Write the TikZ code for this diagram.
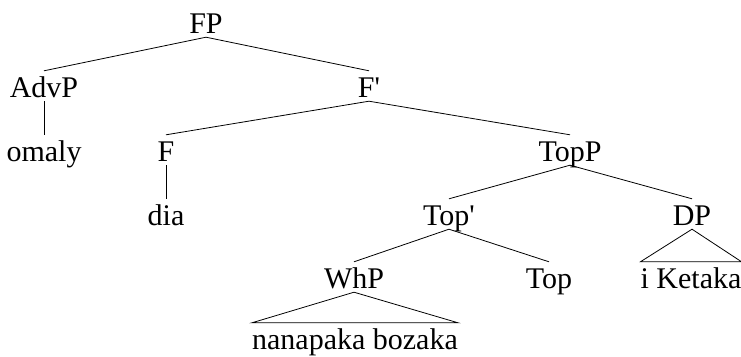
\documentclass[tikz,border=0pt]{standalone}
\usepackage{fontspec}
\setmainfont{Liberation Serif}

\begin{document}
\begin{tikzpicture}[x=1pt,y=-1pt,
    cat/.style={anchor=base,inner xsep=0pt,inner ysep=4pt,text height=22pt,text depth=0pt,font=\fontsize{30}{36}\selectfont},
    branch/.style={draw=black,line width=0.8pt}]
    \useasboundingbox (0,0) rectangle (741,356);
    \node[cat] (fp) at (206,33) {FP};
    \node[cat] (advp) at (44,97) {AdvP};
    \node[cat] (fbar) at (369,97) {F\textquotesingle};
     \node[cat] (omaly) at (44,161) {omaly};
     \node[cat] (f) at (166,161) {F};
     \node[cat] (topp) at (570,161) {TopP};
      \node[cat] (dia) at (166,225) {dia};
      \node[cat] (topbar) at (449,225) {Top\textquotesingle};
      \node[cat] (dp) at (692,225) {DP};
       \node[cat] (whp) at (354,288) {WhP};
       \node[cat] (top) at (549,288) {Top};
       \node[cat] (ketaka) at (691,288) {i Ketaka};
    \node[cat] (nanapaka) at (355,349) {nanapaka bozaka};
    \path [branch] (fp.south) edge (advp.north);
    \path [branch] (fp.south) edge (fbar.north);
    \path [branch] (advp.south) edge (omaly.north);
    \path [branch] (fbar.south) edge (f.north);
    \path [branch] (fbar.south) edge (topp.north);
    \path [branch] (f.south) edge (dia.north);
    \path [branch] (topp.south) edge (topbar.north);
    \path [branch] (topp.south) edge (dp.north);
    \path [branch] (topbar.south) edge (whp.north);
    \path [branch] (topbar.south) edge (top.north);
    \draw [branch] (dp.south) -- (ketaka.north west) -- (ketaka.north east) -- cycle;
    \draw [branch] (whp.south) -- (nanapaka.north west) -- (nanapaka.north east) -- cycle;
\end{tikzpicture}
\end{document}
